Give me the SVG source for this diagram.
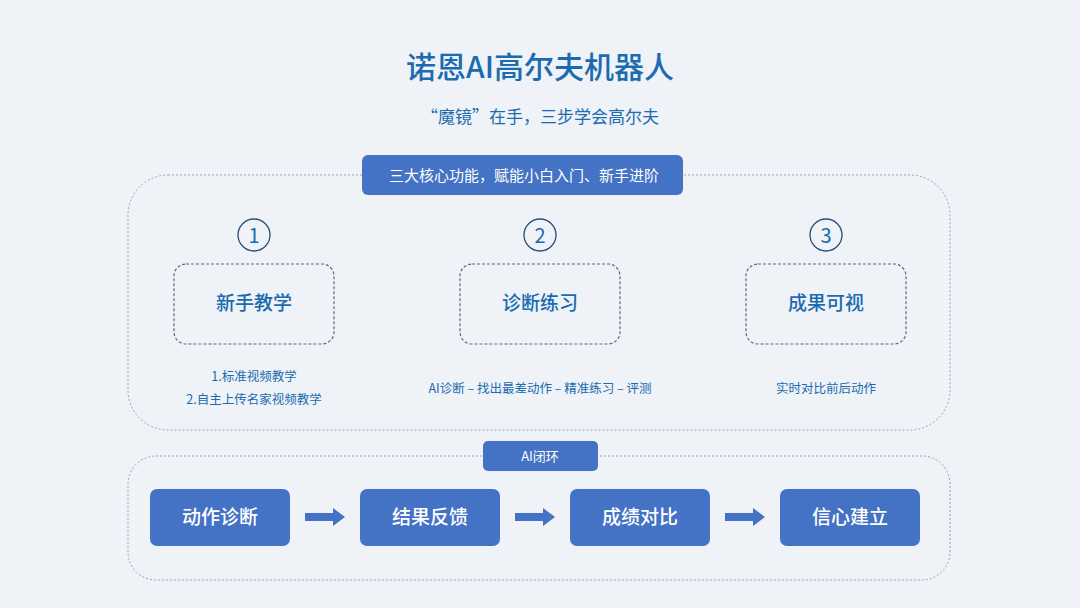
<svg xmlns="http://www.w3.org/2000/svg" width="1080" height="608" viewBox="0 0 1080 608">
<style>
text{font-family:"Noto Sans CJK SC","Liberation Sans",sans-serif;text-anchor:middle}
.t{fill:#1a6bb0}
.frame{fill:none;stroke:#9aa3b5;stroke-width:1;stroke-dasharray:2 2}
.dash{fill:none;stroke:#5a6a8a;stroke-width:1.2;stroke-dasharray:3 2}
.btn{fill:#4472c4}
.w{fill:#fff}
.circ{fill:none;stroke:#2a4d7a;stroke-width:1.3}
</style>
<rect width="1080" height="608" fill="#eff2f7"/>
<text class="t" x="540" y="78" font-size="30" font-weight="500">诺恩AI高尔夫机器人</text>
<text class="t" x="540" y="123" font-size="17">“魔镜”在手，三步学会高尔夫</text>
<rect class="frame" x="128" y="175" width="822" height="255" rx="40"/>
<g id="label1"><rect class="btn" x="362" y="155" width="321" height="40" rx="6"/><text class="w" x="524" y="181" font-size="15">三大核心功能，赋能小白入门、新手进阶</text></g>
<g id="f1"><circle class="circ" cx="254" cy="235" r="16"/><text class="t" x="254" y="243" font-size="20">1</text>
<rect class="dash" x="174" y="264" width="160" height="80" rx="12"/><text class="t" x="254" y="310" font-size="19" font-weight="500">新手教学</text>
<text class="t" x="254" y="381" font-size="12.5">1.标准视频教学</text><text class="t" x="254" y="404" font-size="12.5">2.自主上传名家视频教学</text></g>
<g id="f2"><circle class="circ" cx="540" cy="235" r="16"/><text class="t" x="540" y="243" font-size="20">2</text>
<rect class="dash" x="460" y="264" width="160" height="80" rx="12"/><text class="t" x="540" y="310" font-size="19" font-weight="500">诊断练习</text>
<text class="t" x="540" y="393" font-size="12.5">AI诊断 – 找出最差动作 – 精准练习 – 评测</text></g>
<g id="f3"><circle class="circ" cx="826" cy="235" r="16"/><text class="t" x="826" y="243" font-size="20">3</text>
<rect class="dash" x="746" y="264" width="160" height="80" rx="12"/><text class="t" x="826" y="310" font-size="19" font-weight="500">成果可视</text>
<text class="t" x="826" y="393" font-size="12.5">实时对比前后动作</text></g>
<rect class="frame" x="128" y="456" width="822" height="124" rx="28"/>
<g id="label2"><rect class="btn" x="483" y="441" width="115" height="30" rx="5"/><text class="w" x="540" y="461" font-size="13">AI闭环</text></g>
<g id="n1"><rect class="btn" x="150" y="489" width="140" height="57" rx="7"/><text class="w" x="220" y="524" font-size="19" font-weight="500">动作诊断</text></g>
<g id="n2"><rect class="btn" x="360" y="489" width="140" height="57" rx="7"/><text class="w" x="430" y="524" font-size="19" font-weight="500">结果反馈</text></g>
<g id="n3"><rect class="btn" x="570" y="489" width="140" height="57" rx="7"/><text class="w" x="640" y="524" font-size="19" font-weight="500">成绩对比</text></g>
<g id="n4"><rect class="btn" x="780" y="489" width="140" height="57" rx="7"/><text class="w" x="850" y="524" font-size="19" font-weight="500">信心建立</text></g>
<g id="connectors" fill="#4472c4">
<path d="M305,513H333V508L345,517L333,526V521H305z"/>
<path d="M515,513H543V508L555,517L543,526V521H515z"/>
<path d="M725,513H753V508L765,517L753,526V521H725z"/>
</g>
</svg>
